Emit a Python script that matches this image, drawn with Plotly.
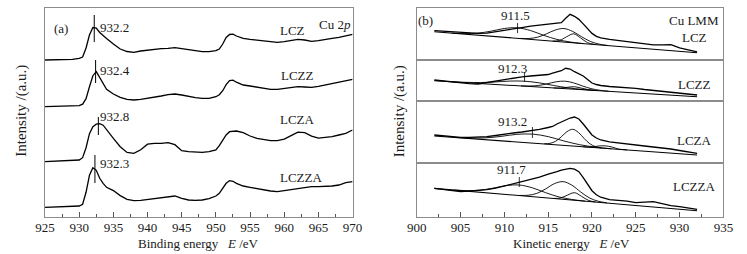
import numpy as np
import plotly.graph_objects as go

# ---------------- Panel (a): Cu 2p ----------------
a_names = ["LCZ", "LCZZ", "LCZA", "LCZZA"]
a_peaks = [932.2, 932.4, 932.8, 932.3]
a_E = [925, 926, 927, 928, 929, 930, 930.5, 931, 931.5, 932, 932.5, 933, 933.5,
       934, 935, 936, 937, 938, 939, 940, 941, 942, 943, 944, 945, 946, 947, 948, 949, 950,
       950.5, 951, 951.5, 952, 952.5,
       953, 954, 955, 956, 957, 958, 959, 960, 961, 962, 963, 964, 965, 966, 967, 968, 969, 970]
a_LCZ = [0, 0.3, 0, 0.7, 0.7, 1.7, 3, 12, 25, 32.5, 32, 27.5, 24,
         21.5, 16, 11, 8.5, 7.7, 9, 10, 10.7, 11.3, 11.7, 12.3, 11.3, 10, 9.3, 8.3, 8.3, 9.3,
         11, 16, 22.5, 25.5, 25.8,
         24, 21.7, 20.7, 20, 19.3, 18.3, 17.7, 18.3, 19.3, 20.7, 20, 18.7, 19.3, 20.7, 21.7, 22.7, 24, 25.7]
a_LCZZ = [0, 0.3, 0.3, 0.7, 0.7, 1, 2.5, 8, 20, 31, 35, 29, 23,
          17.3, 12.7, 9.3, 7.3, 6.7, 7.3, 8.3, 9, 10.7, 12, 12.7, 11.7, 10, 9, 8.3, 8.3, 10,
          12, 16, 22, 26, 26.5,
          24.5, 21.7, 20.7, 19.7, 18.3, 17.3, 17.3, 18.3, 19.3, 20, 19.7, 19.3, 20.3, 21.7, 22.7, 24, 25.7, 27.3]
a_LCZA = [0, 0.3, 0.3, 0.7, 0.7, 1.7, 4, 14, 28, 35, 37.5, 38, 36.5,
          31.7, 23.3, 15, 9.3, 8.3, 12, 17.5, 18.3, 18.3, 19, 17, 11, 10, 9.3, 9.3, 10, 11.7,
          16, 21.7, 26.7, 30, 30.7,
          30.7, 29, 25.7, 23.3, 22.3, 21, 21, 22.5, 26, 29.5, 29, 25.5, 23.5, 24.3, 25, 26.7, 28.3, 31.7]
a_LCZZA = [0, 0.3, 0.3, 1, 1, 1.3, 3, 15, 32, 39.5, 37, 29, 24,
           20, 16.7, 11.7, 8, 6.7, 7, 8, 9, 9.3, 10.7, 11.3, 9, 7.3, 7, 7.3, 8.7, 11.3,
           14, 19, 24, 26.7, 26,
           24, 21.3, 20, 18.7, 17.3, 16.3, 15.7, 16.7, 18, 19, 19.7, 20.7, 20.7, 20.7, 21.3, 22.3, 24.7, 25.7]
a_series = [a_LCZ, a_LCZZ, a_LCZA, a_LCZZA]
a_offsets = [157, 110.3, 55.3, 9.7]          # vertical stacking
a_xticks = [925, 930, 935, 940, 945, 950, 955, 960, 965, 970]

# ---------------- Panel (b): Cu LMM ----------------
b_names = ["LCZ", "LCZZ", "LCZA", "LCZZA"]
b_peaks = [911.5, 912.3, 913.2, 911.7]
b_E = [902, 903, 904, 905, 906, 907, 908, 909, 910, 911, 912, 913, 914, 915,
       915.5, 916, 916.5, 917, 917.5, 918, 918.5, 919, 919.5, 920, 920.5, 921,
       922, 923, 924, 925, 926, 927, 928, 929, 930, 931, 932]
b_LCZ = [28.7, 28.2, 27.7, 27, 26.5, 26, 26.3, 27.5, 28.7, 30, 31.8, 33.3, 34.3, 35,
         35.3, 36, 36.7, 41, 45, 43, 40, 35.5, 31, 26, 23, 21.5,
         20, 19, 18, 16.7, 15.5, 14.5, 14.5, 14.7, 11.5, 9.5, 7.7]
b_LCZZ = [21, 20, 19, 17.7, 17.3, 17, 18.5, 20, 21.7, 23, 24.2, 25, 25.7, 26.5,
          27.8, 29, 30.3, 32.7, 32, 29.3, 27, 25, 21.5, 18, 16.5, 15.5,
          14.5, 14, 13.5, 12.7, 11.5, 10.5, 9.3, 8.5, 7.7, 6.8, 6]
b_LCZA = [28, 27.2, 26.5, 25.7, 25.7, 25.7, 26.3, 27.5, 29, 30, 31, 32.2, 33.7, 35.5,
          36.5, 39, 41, 43, 45, 46, 44, 39, 33, 28, 25, 23,
          21.2, 20, 19, 18, 17, 16, 15.2, 14, 12.5, 11, 9.7]
b_LCZZA = [28.3, 27.3, 26.3, 25, 25.5, 26, 27, 28.5, 30.7, 32.5, 34.5, 36.7, 39.5, 42.5,
           43.5, 45, 46.5, 47.5, 48.3, 47.5, 45, 39, 32, 26, 22, 19.5,
           17, 16.5, 15.5, 14, 14.5, 15, 13, 11, 10, 8.5, 7.3]
b_series = [b_LCZ, b_LCZZ, b_LCZA, b_LCZZA]
# linear background: values at 902 eV and 932 eV
b_bg_E = [902, 932]
b_bg = [[27.7, 6.7], [20.3, 4.3], [27, 8], [28.3, 6]]
# fitted components: (energies, height above background)
b_comps = [
    [  # LCZ
        ([904, 905.5, 907, 908.5, 910, 911.5, 913, 914.5, 916, 917.5, 919],
         [0, 0.6, 2.1, 5.1, 8.8, 10.5, 8.8, 5.1, 2.1, 0.6, 0]),
        ([911.8, 912.8, 913.8, 914.8, 915.8, 916.8, 917.8, 918.8, 919.8, 920.8, 921.8],
         [0.1, 0.8, 2.8, 6.8, 11.3, 13.5, 11.3, 6.8, 2.8, 0.8, 0.1]),
        ([915.5, 916.3, 917.1, 917.9, 918.7, 919.5, 920.3],
         [0.1, 1.3, 5.5, 9, 5.5, 1.3, 0.1]),
    ],
    [  # LCZZ
        ([904, 905.6, 907.3, 909, 910.6, 912.3, 914, 915.6, 917.3, 919, 920.6],
         [0, 0.3, 1, 2.5, 4.2, 5, 4.2, 2.5, 1, 0.3, 0]),
        ([911.9, 912.9, 913.9, 914.9, 915.9, 916.9, 917.9, 918.9, 919.9, 920.9, 921.9],
         [0.1, 0.5, 1.6, 3.8, 6.3, 7.5, 6.3, 3.8, 1.6, 0.5, 0.1]),
        ([915.6, 916.4, 917.2, 918, 918.8, 919.6, 920.4],
         [0, 0.4, 1.5, 2.5, 1.5, 0.4, 0]),
    ],
    [  # LCZA
        ([904.2, 906, 907.8, 909.6, 911.4, 913.2, 915, 916.8, 918.6, 920.4, 922.2],
         [0, 0.5, 1.8, 4.4, 7.6, 9, 7.6, 4.4, 1.8, 0.5, 0]),
        ([914.55, 915.2, 915.85, 916.5, 917.15, 917.8, 918.45, 919.1, 919.75, 920.4, 921.05],
         [0.2, 1, 3.5, 8.4, 14, 16.7, 14, 8.4, 3.5, 1, 0.2]),
        ([919, 920, 920.7, 921.5, 922.3, 923, 924],
         [0, 0.3, 1.8, 2.5, 1.8, 0.3, 0]),
    ],
    [  # LCZZA
        ([904.2, 905.7, 907.2, 908.7, 910.2, 911.7, 913.2, 914.7, 916.2, 917.7, 919.2],
         [0, 0.6, 2.1, 5.2, 8.9, 10.6, 8.9, 5.2, 2.1, 0.6, 0]),
        ([911.7, 912.7, 913.7, 914.7, 915.7, 916.7, 917.7, 918.7, 919.7, 920.7, 921.7],
         [0.2, 1.1, 3.7, 8.9, 14.9, 17.7, 14.9, 8.9, 3.7, 1.1, 0.2]),
        ([915.6, 916.4, 917.2, 918, 918.8, 919.6, 920.4],
         [0.1, 1.1, 4.6, 7.6, 4.6, 1.1, 0.1]),
    ],
]
b_xticks = [900, 905, 910, 915, 920, 925, 930, 935]

# ---------------- style / layout helpers ----------------
FONT = "Liberation Serif, Times New Roman, serif"
TXT = "#1a1a1a"
FRAME = "#8c8c8c"
W, H = 747, 254

def px_x(p):
    return p / W

def px_y(p):
    return (H - p) / H

fig = go.Figure()

# panel (a) traces
for name, vals, off in zip(a_names, a_series, a_offsets):
    fig.add_trace(go.Scatter(x=a_E, y=np.array(vals) + off, mode="lines", name=name,
                             line=dict(color="black", width=1.3), xaxis="x", yaxis="y",
                             showlegend=False, hoverinfo="skip"))

# panel (b) traces
for i, (name, vals) in enumerate(zip(b_names, b_series)):
    xa, ya = f"x{i + 2}", f"y{i + 2}"
    fig.add_trace(go.Scatter(x=b_E, y=vals, mode="lines", name=name,
                             line=dict(color="black", width=1.3), xaxis=xa, yaxis=ya,
                             showlegend=False, hoverinfo="skip"))
    fig.add_trace(go.Scatter(x=b_bg_E, y=b_bg[i], mode="lines",
                             line=dict(color="black", width=1.1), xaxis=xa, yaxis=ya,
                             showlegend=False, hoverinfo="skip"))
    for ce, ch in b_comps[i]:
        base = np.interp(ce, b_bg_E, b_bg[i])
        fig.add_trace(go.Scatter(x=ce, y=np.array(ch) + base, mode="lines",
                                 line=dict(color="black", width=0.9, shape="spline"),
                                 xaxis=xa, yaxis=ya, showlegend=False, hoverinfo="skip"))

# axes
tickfont = dict(family=FONT, size=13, color=TXT)
common_x = dict(showgrid=False, zeroline=False, showline=True, mirror=True,
                linecolor=FRAME, linewidth=1)
common_y = dict(showgrid=False, zeroline=False, showline=True, mirror=True,
                linecolor=FRAME, linewidth=1, showticklabels=False, ticks="")

a_dom_x = [px_x(36), px_x(352)]
b_dom_x = [px_x(418), px_x(733)]
layout = dict(
    width=W, height=H, margin=dict(l=0, r=0, t=0, b=0),
    paper_bgcolor="white", plot_bgcolor="white",
    xaxis=dict(**common_x, domain=a_dom_x, range=[925, 970], anchor="y",
               tickvals=a_xticks, ticks="inside", ticklen=5, tickcolor="#555",
               tickfont=tickfont, ticklabelstandoff=-2,
               minor=dict(dtick=2.5, tick0=925, ticks="inside", ticklen=3, tickcolor="#555")),
    yaxis=dict(**common_y, domain=[px_y(217), px_y(8)], range=[0, 209], anchor="x"),
)
b_ydoms = [(8, 59.5), (59.5, 101), (101, 163), (163, 217)]
b_yranges = [[0, 51.3], [0, 41.5], [0, 62], [-0.3, 53.7]]
for i in range(4):
    k = i + 2
    xd = dict(**common_x, domain=b_dom_x, range=[900, 935], anchor=f"y{k}")
    if i == 3:
        xd.update(tickvals=b_xticks, ticks="inside", ticklen=5, tickcolor="#555",
                  tickfont=tickfont, ticklabelstandoff=-2,
                  minor=dict(dtick=2.5, tick0=900, ticks="inside", ticklen=3, tickcolor="#555"))
    else:
        xd.update(showticklabels=False, ticks="")
    layout[f"xaxis{k}"] = xd
    top, bot = b_ydoms[i]
    layout[f"yaxis{k}"] = dict(**common_y, domain=[px_y(bot), px_y(top)],
                               range=b_yranges[i], anchor=f"x{k}")
fig.update_layout(**layout)

# annotations
afont = dict(family=FONT, size=13, color=TXT)
ann = []
def add_text(x, y, text, xref, yref, size=13, **kw):
    ann.append(dict(x=x, y=y, text=text, xref=xref, yref=yref, showarrow=False,
                    font=dict(afont, size=size), xanchor="center", yanchor="middle", **kw))

# panel (a) texts
add_text(927.4, 189, "(a)", "x", "y")
add_text(967.5, 193, "Cu 2<i>p</i>", "x", "y")
a_lab_y = [190, 147, 101, 54]
a_name_xy = [(961.2, 187), (961.9, 142), (961.9, 98), (962.4, 40)]
a_mark = [(175, 202), (134, 157), (82, 100), (34, 62)]
shapes = []
for pk, ly, (nx, ny), (m0, m1), name in zip(a_peaks, a_lab_y, a_name_xy, a_mark, a_names):
    add_text(935.2, ly, f"{pk:.1f}", "x", "y")
    add_text(nx, ny, name, "x", "y")
    shapes.append(dict(type="line", xref="x", yref="y", x0=pk, x1=pk, y0=m0, y1=m1,
                       line=dict(color="black", width=1)))

# panel (b) texts
add_text(901, 39.3, "(b)", "x2", "y2")
add_text(931.7, 39.3, "Cu LMM", "x2", "y2")
b_lab = [(911.3, 44.3), (910.9, 33), (910.9, 41), (910.8, 47.7)]
b_name_y = [22.3, 17, 22.3, 30]
b_mark = [(26.3, 36.3), (19, 29), (25, 36), (29.7, 39.7)]
for i, (pk, (lx, ly), ny, (m0, m1), name) in enumerate(zip(b_peaks, b_lab, b_name_y, b_mark, b_names)):
    k = i + 2
    add_text(lx, ly, f"{pk:.1f}", f"x{k}", f"y{k}")
    add_text(931.7, ny, name, f"x{k}", f"y{k}")
    shapes.append(dict(type="line", xref=f"x{k}", yref=f"y{k}", x0=pk, x1=pk, y0=m0, y1=m1,
                       line=dict(color="black", width=0.8)))

# axis titles
nb = "\u00a0"
add_text(px_x(194), px_y(243), f"Binding energy{nb*3}<i>E</i> /eV", "paper", "paper")
add_text(px_x(577), px_y(243), f"Kinetic energy{nb*3}<i>E</i> /eV", "paper", "paper")
add_text(px_x(11), px_y(111), "Intensity /(a.u.)", "paper", "paper", size=15, textangle=-90)
add_text(px_x(400), px_y(111), "Intensity /(a.u.)", "paper", "paper", size=15, textangle=-90)

fig.update_layout(annotations=ann, shapes=shapes)
fig.write_html("out.html", config={"displayModeBar": False},
               post_script="document.body.style.margin='0';document.body.style.overflow='hidden';")
